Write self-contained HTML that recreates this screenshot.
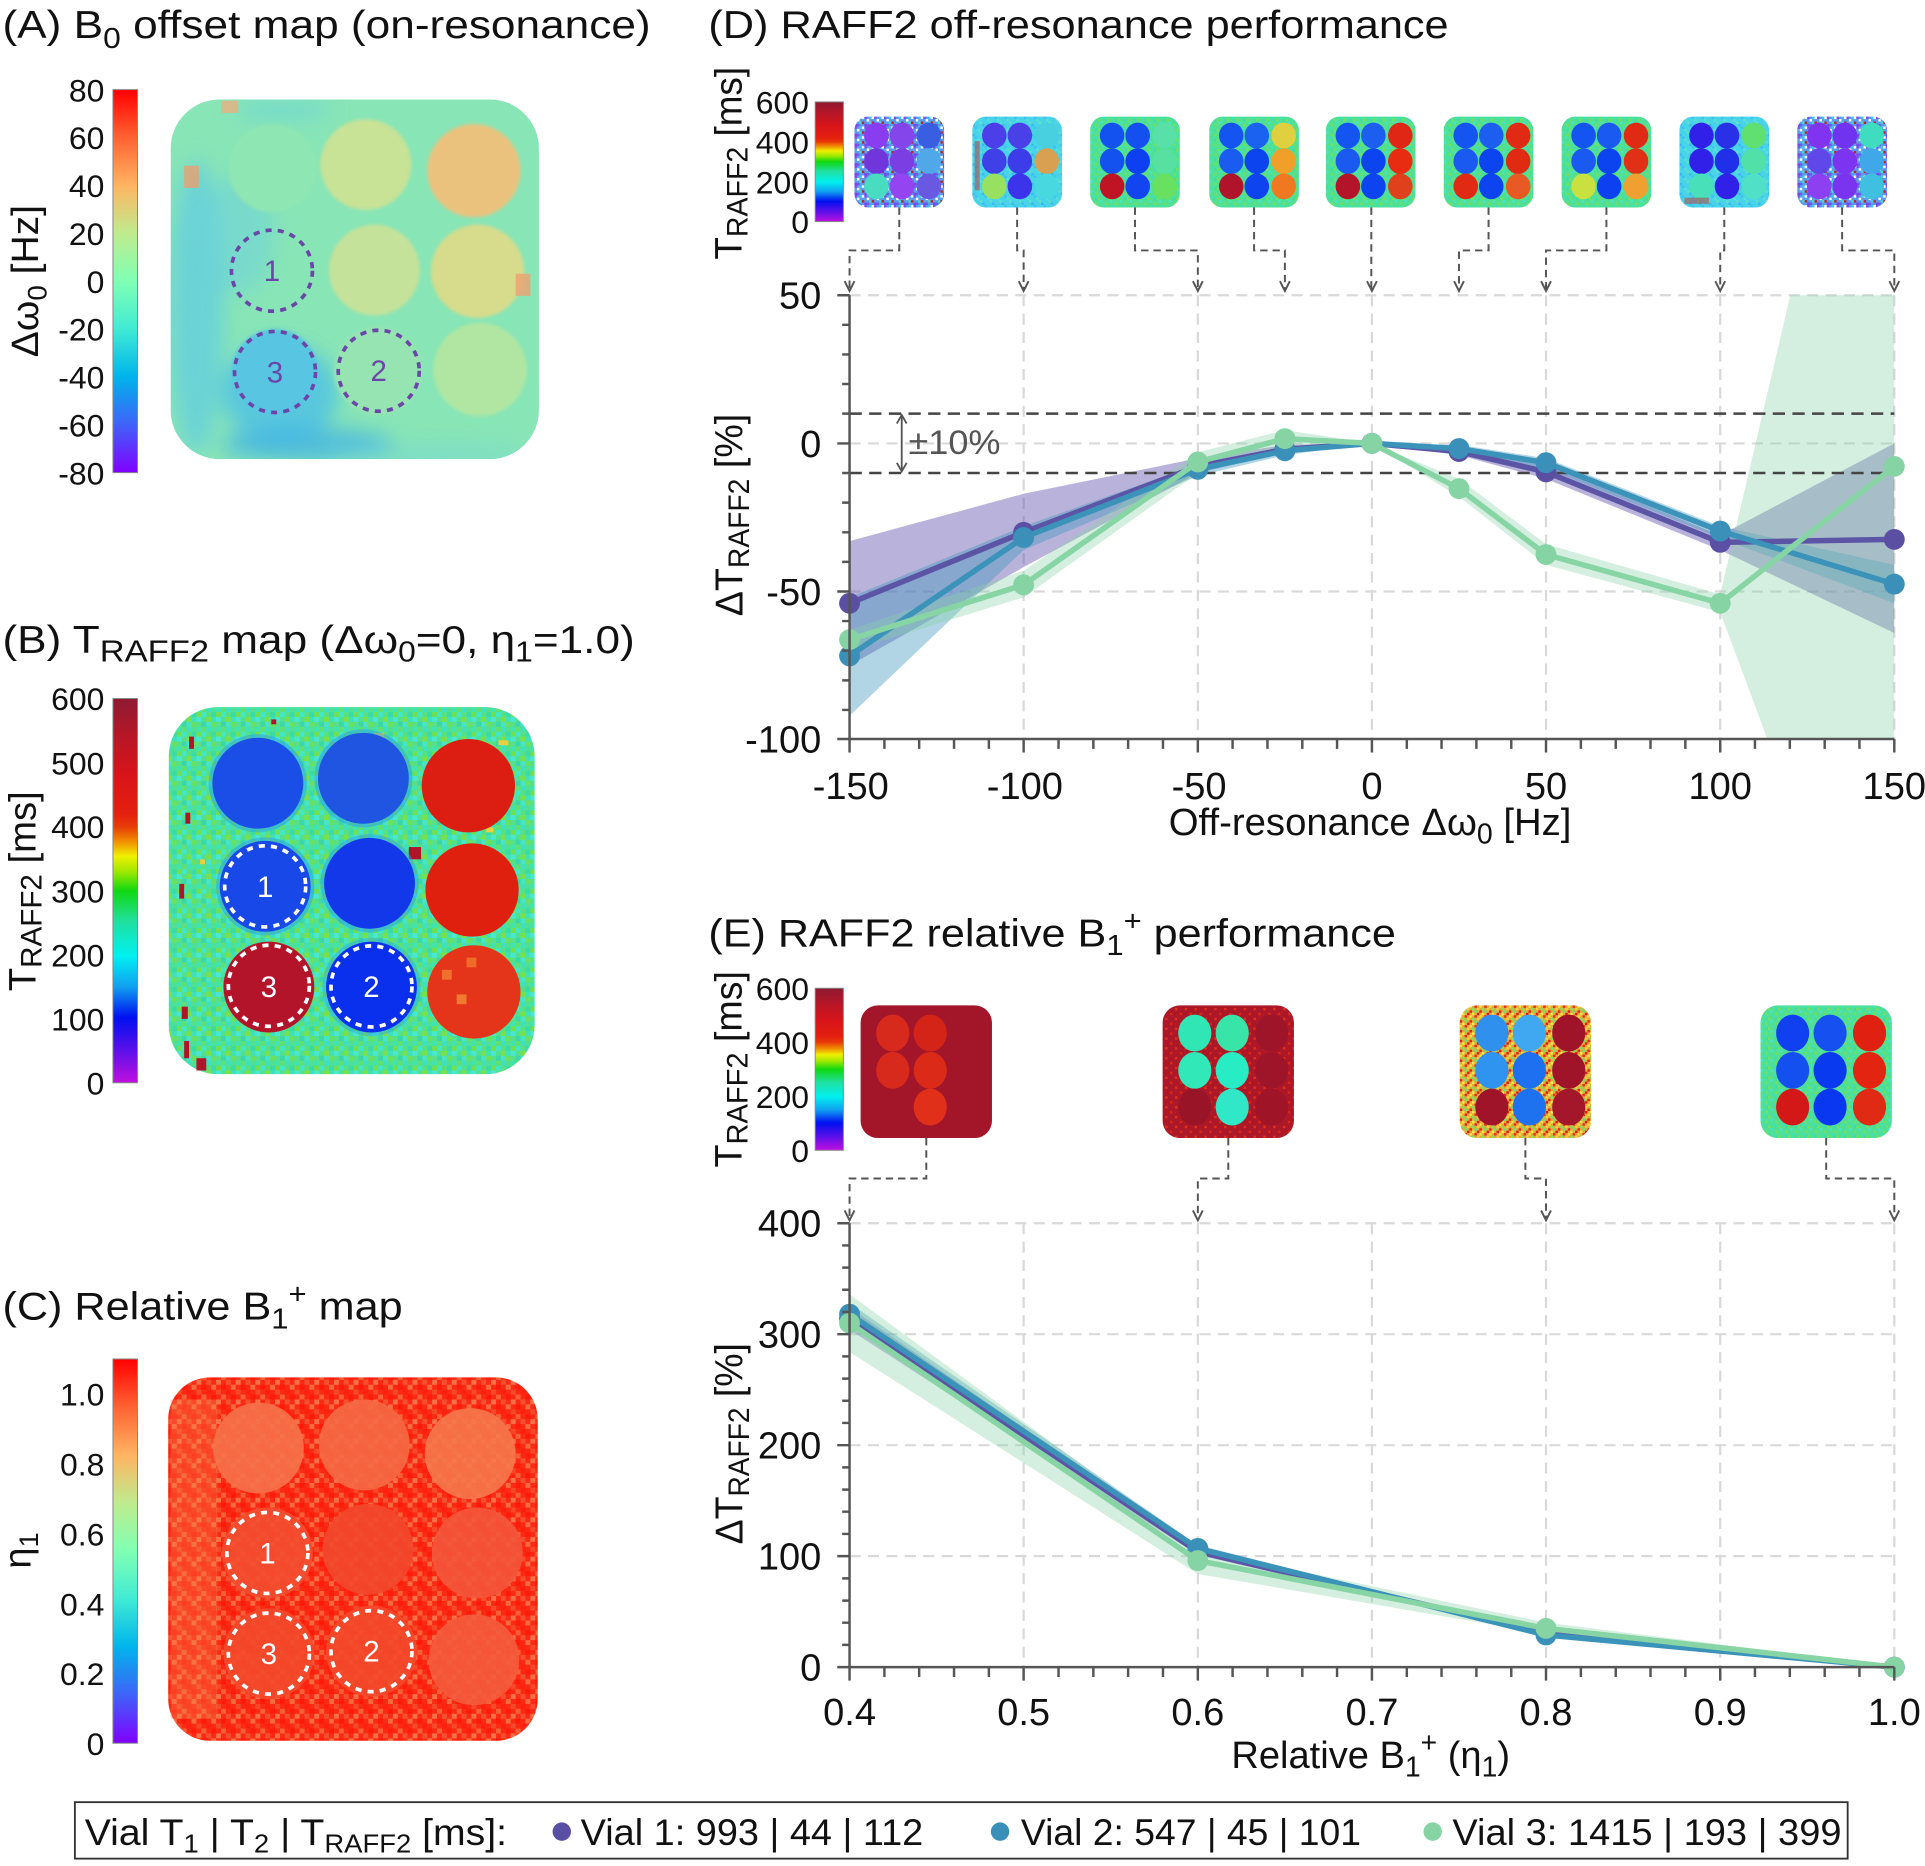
<!DOCTYPE html>
<html><head><meta charset="utf-8"><style>
html,body{margin:0;padding:0;background:#fff;}
svg{display:block;}
text{font-family:"Liberation Sans",sans-serif;fill:#111;}
text.pu{fill:#6a46a8;}
text.wh{fill:#ffffff;}
text.gy{fill:#555555;}
</style></head><body>
<svg xmlns="http://www.w3.org/2000/svg" width="1925" height="1866" viewBox="0 0 1568 1520" preserveAspectRatio="none">
<defs>
<linearGradient id="rainbow" x1="0" y1="0" x2="0" y2="1">
<stop offset="0" stop-color="#ff0000"/><stop offset="0.125" stop-color="#ff6232"/><stop offset="0.25" stop-color="#ffb462"/><stop offset="0.375" stop-color="#bfeb8e"/><stop offset="0.5" stop-color="#80ffb4"/><stop offset="0.625" stop-color="#40ebd4"/><stop offset="0.75" stop-color="#00b4eb"/><stop offset="0.875" stop-color="#4062fa"/><stop offset="1" stop-color="#8000ff"/>
</linearGradient>
<linearGradient id="traff" x1="0" y1="0" x2="0" y2="1">
<stop offset="0" stop-color="#8e1a32"/><stop offset="0.1" stop-color="#b81626"/><stop offset="0.2" stop-color="#d8141a"/><stop offset="0.3" stop-color="#e42010"/><stop offset="0.333" stop-color="#e83a08"/><stop offset="0.37" stop-color="#f08a00"/><stop offset="0.41" stop-color="#f0f000"/><stop offset="0.45" stop-color="#a0e800"/><stop offset="0.5" stop-color="#10d810"/><stop offset="0.58" stop-color="#20e0a0"/><stop offset="0.67" stop-color="#00f0f0"/><stop offset="0.75" stop-color="#10a0f0"/><stop offset="0.83" stop-color="#0010f0"/><stop offset="0.92" stop-color="#6010e8"/><stop offset="1" stop-color="#c010e0"/>
</linearGradient>
<pattern id="pB" width="16" height="16" patternUnits="userSpaceOnUse">
<rect x="0" y="0" width="4" height="4" fill="#40e4b0"/><rect x="4" y="0" width="4" height="4" fill="#60e070"/><rect x="8" y="0" width="4" height="4" fill="#3ee0c0"/><rect x="12" y="0" width="4" height="4" fill="#50e090"/>
<rect x="0" y="4" width="4" height="4" fill="#70e050"/><rect x="4" y="4" width="4" height="4" fill="#40e8c8"/><rect x="8" y="4" width="4" height="4" fill="#58e080"/><rect x="12" y="4" width="4" height="4" fill="#38dca8"/>
<rect x="0" y="8" width="4" height="4" fill="#48e8d0"/><rect x="4" y="8" width="4" height="4" fill="#50e090"/><rect x="8" y="8" width="4" height="4" fill="#7ae048"/><rect x="12" y="8" width="4" height="4" fill="#40e0b8"/>
<rect x="0" y="12" width="4" height="4" fill="#58e088"/><rect x="4" y="12" width="4" height="4" fill="#3ad8a8"/><rect x="8" y="12" width="4" height="4" fill="#48e4c4"/><rect x="12" y="12" width="4" height="4" fill="#68e060"/>
</pattern>
<pattern id="pC" width="16" height="16" patternUnits="userSpaceOnUse">
<rect width="16" height="16" fill="#fa2a14"/>
<rect x="4" y="0" width="4" height="4" fill="#f66038"/><rect x="12" y="0" width="4" height="4" fill="#ff1a0a"/>
<rect x="0" y="4" width="4" height="4" fill="#f87048"/><rect x="8" y="4" width="4" height="4" fill="#f45030"/>
<rect x="4" y="8" width="4" height="4" fill="#ff1a0a"/><rect x="12" y="8" width="4" height="4" fill="#f66a40"/>
<rect x="0" y="12" width="4" height="4" fill="#f44a2a"/><rect x="8" y="12" width="4" height="4" fill="#ff200e"/>
</pattern>
<pattern id="pG" width="8" height="8" patternUnits="userSpaceOnUse">
<rect width="8" height="8" fill="#50e094"/><rect x="2" y="0" width="2" height="2" fill="#40e0b8"/><rect x="6" y="2" width="2" height="2" fill="#78e058"/><rect x="0" y="4" width="2" height="2" fill="#48e4c8"/><rect x="4" y="6" width="2" height="2" fill="#70e060"/><rect x="4" y="2" width="2" height="2" fill="#3cdcb0"/>
</pattern>
<pattern id="pN" width="8" height="8" patternUnits="userSpaceOnUse">
<rect width="8" height="8" fill="#5a9cec"/><rect x="0" y="0" width="2" height="2" fill="#7a50e8"/><rect x="2" y="2" width="2" height="2" fill="#ffffff"/><rect x="4" y="0" width="2" height="2" fill="#40c8e8"/><rect x="6" y="4" width="2" height="2" fill="#c02030"/><rect x="0" y="6" width="2" height="2" fill="#8040f0"/><rect x="4" y="4" width="2" height="2" fill="#48d8d0"/><rect x="2" y="6" width="2" height="2" fill="#6060e8"/><rect x="6" y="0" width="2" height="2" fill="#ffffff"/>
</pattern>
<pattern id="pCy" width="8" height="8" patternUnits="userSpaceOnUse">
<rect width="8" height="8" fill="#48d4e8"/><rect x="2" y="0" width="2" height="2" fill="#40c0f0"/><rect x="6" y="4" width="2" height="2" fill="#60e0c8"/><rect x="0" y="6" width="2" height="2" fill="#3cb8f0"/><rect x="4" y="2" width="2" height="2" fill="#58e0d8"/>
</pattern>
<pattern id="pE3" width="8" height="8" patternUnits="userSpaceOnUse">
<rect width="8" height="8" fill="#e8a838"/><rect x="0" y="0" width="2" height="2" fill="#f0e040"/><rect x="4" y="0" width="2" height="2" fill="#e03020"/><rect x="2" y="2" width="2" height="2" fill="#80e060"/><rect x="6" y="2" width="2" height="2" fill="#f0d040"/><rect x="0" y="4" width="2" height="2" fill="#e02818"/><rect x="4" y="4" width="2" height="2" fill="#70e070"/><rect x="2" y="6" width="2" height="2" fill="#f0e850"/><rect x="6" y="6" width="2" height="2" fill="#d82018"/>
</pattern>
<pattern id="pE2" width="8" height="8" patternUnits="userSpaceOnUse">
<rect width="8" height="8" fill="#ac1828"/><rect x="2" y="2" width="2" height="2" fill="#e0301c"/><rect x="6" y="6" width="2" height="2" fill="#d82818"/>
</pattern>
<clipPath id="clipA"><rect x="139" y="81" width="300" height="293" rx="40"/></clipPath>
<clipPath id="clipD"><rect x="692" y="240.5" width="851" height="361.5"/></clipPath>
<filter id="blur6" x="-50%" y="-50%" width="200%" height="200%"><feGaussianBlur stdDeviation="8"/></filter>
<filter id="blur1"><feGaussianBlur stdDeviation="1.2"/></filter>
</defs>

<!-- ============ PANEL A ============ -->
<text x="2" y="31" font-size="32" textLength="528" lengthAdjust="spacingAndGlyphs">(A) B<tspan dy="8" font-size="23">0</tspan><tspan dy="-8"> offset map (on-resonance)</tspan></text>
<rect x="92" y="73" width="20" height="312" fill="url(#rainbow)" stroke="#888" stroke-width="0.8"/>
<g font-size="26" text-anchor="end">
<text x="85" y="82.5">80</text><text x="85" y="121.5">60</text><text x="85" y="160.5">40</text><text x="85" y="199.5">20</text><text x="85" y="238.5">0</text><text x="85" y="277.5">-20</text><text x="85" y="316.5">-40</text><text x="85" y="355.5">-60</text><text x="85" y="394.5">-80</text>
</g>
<text transform="translate(31,229) rotate(-90)" text-anchor="middle" font-size="31" textLength="124" lengthAdjust="spacingAndGlyphs">Δω<tspan dy="7" font-size="22">0</tspan><tspan dy="-7"> [Hz]</tspan></text>
<g clip-path="url(#clipA)">
<rect x="139" y="81" width="300" height="293" fill="#88e5b6"/>
<g filter="url(#blur6)">
<ellipse cx="160" cy="250" rx="22" ry="120" fill="#62cce0" opacity="0.75"/>
<ellipse cx="228" cy="320" rx="48" ry="40" fill="#4cc0e6" opacity="0.8"/>
<ellipse cx="250" cy="362" rx="70" ry="14" fill="#3aaee8" opacity="0.7"/>
<ellipse cx="195" cy="190" rx="28" ry="50" fill="#6cd2dc" opacity="0.55"/>
<ellipse cx="350" cy="370" rx="80" ry="8" fill="#70d6d8" opacity="0.5"/>
<ellipse cx="230" cy="90" rx="40" ry="8" fill="#68d4dc" opacity="0.6"/>
</g>
<g filter="url(#blur1)">
<circle cx="222" cy="137" r="36" fill="#8ee6b2"/>
<circle cx="298" cy="134" r="37" fill="#c8e296"/>
<circle cx="386" cy="139" r="38" fill="#eac27e"/>
<circle cx="305" cy="220" r="37" fill="#c4e29a"/>
<circle cx="389" cy="221" r="38" fill="#d6dc8c"/>
<circle cx="224" cy="303" r="35" fill="#58c6e2"/>
<circle cx="308" cy="302" r="36" fill="#96e4b2"/>
<circle cx="391" cy="301" r="38" fill="#b0e6a2"/>
</g>
<rect x="150" y="135" width="12" height="18" fill="#eaa070" opacity="0.8"/>
<rect x="420" y="223" width="12" height="18" fill="#f0a070" opacity="0.8"/>
<rect x="180" y="82" width="14" height="10" fill="#eab080" opacity="0.8"/>
</g>
<g fill="none" stroke="#6a46a8" stroke-width="3" stroke-dasharray="5 5">
<circle cx="221.5" cy="220.5" r="33"/><circle cx="224" cy="303" r="33"/><circle cx="308.5" cy="302" r="33"/>
</g>
<g font-size="24" text-anchor="middle">
<text class="pu" x="221.5" y="229">1</text><text class="pu" x="224" y="311.5">3</text><text class="pu" x="308.5" y="310.5">2</text>
</g>

<!-- ============ PANEL B ============ -->
<text x="2" y="532" font-size="32" textLength="515" lengthAdjust="spacingAndGlyphs">(B) T<tspan dy="7" font-size="25">RAFF2</tspan><tspan dy="-7"> map (Δω</tspan><tspan dy="7" font-size="23">0</tspan><tspan dy="-7">=0, η</tspan><tspan dy="7" font-size="23">1</tspan><tspan dy="-7">=1.0)</tspan></text>
<rect x="92" y="569" width="20" height="313" fill="url(#traff)" stroke="#888" stroke-width="0.8"/>
<g font-size="26" text-anchor="end">
<text x="85" y="578.5">600</text><text x="85" y="630.7">500</text><text x="85" y="682.8">400</text><text x="85" y="735">300</text><text x="85" y="787.2">200</text><text x="85" y="839.3">100</text><text x="85" y="891.5">0</text>
</g>
<text transform="translate(29,726) rotate(-90)" text-anchor="middle" font-size="31" textLength="163" lengthAdjust="spacingAndGlyphs">T<tspan dy="5" font-size="24">RAFF2</tspan><tspan dy="-5"> [ms]</tspan></text>
<rect x="137.5" y="576" width="298" height="299" rx="40" fill="url(#pB)"/>
<g fill="#b01428">
<rect x="151" y="662" width="4" height="9"/><rect x="146" y="720" width="4" height="12"/><rect x="148" y="820" width="5" height="10"/><rect x="150" y="848" width="4" height="14"/><rect x="160" y="862" width="8" height="10"/><rect x="333" y="690" width="10" height="10"/><rect x="221" y="586" width="4" height="4"/><rect x="154" y="600" width="4" height="10"/>
</g>
<g fill="#e8d040">
<rect x="163" y="700" width="4" height="4"/><rect x="305" y="597" width="8" height="4"/><rect x="406" y="603" width="8" height="4"/><rect x="396" y="674" width="6" height="4"/><rect x="297" y="686" width="6" height="8"/>
</g>
<g>
<circle cx="210" cy="638" r="40" fill="#2aa0f0" opacity="0.5"/>
<circle cx="296" cy="634" r="40" fill="#2aa0f0" opacity="0.5"/>
<circle cx="216" cy="722" r="40" fill="#2aa0f0" opacity="0.5"/>
<circle cx="301" cy="719.5" r="40" fill="#2aa0f0" opacity="0.5"/>
<circle cx="302.6" cy="804" r="40" fill="#2aa0f0" opacity="0.4"/>
<circle cx="210" cy="638" r="37" fill="#1a4ee6"/>
<circle cx="296" cy="634" r="37" fill="#1f55e0"/>
<circle cx="381.5" cy="640" r="38" fill="#dc1e12"/>
<circle cx="216" cy="722" r="37" fill="#1848e8"/>
<circle cx="301" cy="719.5" r="37" fill="#1238ea"/>
<circle cx="384.5" cy="725" r="38" fill="#e0200f"/>
<circle cx="219" cy="804" r="37" fill="#b4142a"/>
<circle cx="302.6" cy="804" r="37" fill="#0a30ee"/>
<circle cx="386" cy="808" r="38" fill="#e4341a"/>
<rect x="360" y="790" width="8" height="8" fill="#f07030"/><rect x="380" y="780" width="8" height="8" fill="#f06a28"/><rect x="372" y="810" width="8" height="8" fill="#f07a30"/>
</g>
<g fill="none" stroke="#fff" stroke-width="3" stroke-dasharray="5 5">
<circle cx="216" cy="722" r="33"/><circle cx="219" cy="803" r="33"/><circle cx="302.6" cy="803.5" r="33"/>
</g>
<g font-size="24" text-anchor="middle">
<text class="wh" x="216" y="730.5">1</text><text class="wh" x="219" y="812">3</text><text class="wh" x="302.6" y="812">2</text>
</g>

<!-- ============ PANEL C ============ -->
<text x="2" y="1075" font-size="32" textLength="326" lengthAdjust="spacingAndGlyphs">(C) Relative B<tspan dy="7" font-size="23">1</tspan><tspan dy="-20" font-size="23">+</tspan><tspan dy="13"> map</tspan></text>
<rect x="92" y="1107" width="20" height="313" fill="url(#rainbow)" stroke="#888" stroke-width="0.8"/>
<g font-size="26" text-anchor="end">
<text x="85" y="1145">1.0</text><text x="85" y="1202">0.8</text><text x="85" y="1259">0.6</text><text x="85" y="1316">0.4</text><text x="85" y="1372.6">0.2</text><text x="85" y="1429.5">0</text>
</g>
<text transform="translate(25,1263) rotate(-90)" text-anchor="middle" font-size="31">η<tspan dy="6" font-size="22">1</tspan></text>
<rect x="137" y="1122" width="301" height="296" rx="34" fill="url(#pC)"/>
<rect x="139" y="1140" width="38" height="260" fill="#f6844e" opacity="0.35"/>
<g opacity="0.9">
<circle cx="210.5" cy="1179.5" r="37" fill="#f6724a"/>
<circle cx="296.7" cy="1177" r="37" fill="#f56a44"/>
<circle cx="383" cy="1184" r="37" fill="#f6784c"/>
<circle cx="217.8" cy="1265" r="37" fill="#f44e30"/>
<circle cx="299.7" cy="1262" r="37" fill="#f2482c"/>
<circle cx="388.8" cy="1265" r="37" fill="#f4563a"/>
<circle cx="219" cy="1347" r="37" fill="#f44a2c"/>
<circle cx="302.6" cy="1345" r="37" fill="#f44a2c"/>
<circle cx="386" cy="1352" r="37" fill="#f45c3c"/>
</g>
<g fill="none" stroke="#fff" stroke-width="3" stroke-dasharray="5 5">
<circle cx="217.8" cy="1265" r="33"/><circle cx="219" cy="1347" r="33"/><circle cx="302.6" cy="1345" r="33"/>
</g>
<g font-size="24" text-anchor="middle">
<text class="wh" x="217.8" y="1273.5">1</text><text class="wh" x="219" y="1355.5">3</text><text class="wh" x="302.6" y="1353.5">2</text>
</g>

<!-- ============ PANEL D ============ -->
<text x="577" y="31" font-size="32" textLength="603" lengthAdjust="spacingAndGlyphs">(D) RAFF2 off-resonance performance</text>
<rect x="664" y="83" width="23" height="97.5" fill="url(#traff)" stroke="#888" stroke-width="0.8"/>
<g font-size="26" text-anchor="end">
<text x="659" y="92.5">600</text><text x="659" y="125">400</text><text x="659" y="157.5">200</text><text x="659" y="190">0</text>
</g>
<text transform="translate(604,133) rotate(-90)" text-anchor="middle" font-size="31" textLength="157" lengthAdjust="spacingAndGlyphs">T<tspan dy="5" font-size="24">RAFF2</tspan><tspan dy="-5"> [ms]</tspan></text>

<!-- small maps D -->
<g transform="translate(696,95)">
<rect width="73" height="74" rx="11" fill="url(#pN)"/>
<ellipse cx="17.9" cy="15.4" rx="10" ry="10.5" fill="#8a3cf0"/><ellipse cx="38.7" cy="15.4" rx="10" ry="10.5" fill="#8446ea"/><ellipse cx="60.6" cy="15.4" rx="10" ry="10.5" fill="#3a5ee2"/><ellipse cx="17.9" cy="36.3" rx="10" ry="10.5" fill="#7036dc"/><ellipse cx="38.7" cy="36.3" rx="10" ry="10.5" fill="#7a3ee2"/><ellipse cx="60.6" cy="36.3" rx="10" ry="10.5" fill="#50a8e8"/><ellipse cx="17.9" cy="56.8" rx="10" ry="10.5" fill="#48dcc0"/><ellipse cx="38.7" cy="56.8" rx="10" ry="10.5" fill="#9444f0"/><ellipse cx="60.6" cy="56.8" rx="10" ry="10.5" fill="#6858e2"/>
</g>
<g transform="translate(792,95)">
<rect width="73" height="74" rx="11" fill="url(#pCy)"/>
<ellipse cx="17.9" cy="15.4" rx="10" ry="10.5" fill="#4c3ee8"/><ellipse cx="38.7" cy="15.4" rx="10" ry="10.5" fill="#4a40e8"/><ellipse cx="60.6" cy="15.4" rx="10" ry="10.5" fill="#48d0e0"/><ellipse cx="17.9" cy="36.3" rx="10" ry="10.5" fill="#4040e8"/><ellipse cx="38.7" cy="36.3" rx="10" ry="10.5" fill="#3c3ce8"/><ellipse cx="60.6" cy="36.3" rx="10" ry="10.5" fill="#d8a050"/><ellipse cx="17.9" cy="56.8" rx="10" ry="10.5" fill="#98e060"/><ellipse cx="38.7" cy="56.8" rx="10" ry="10.5" fill="#3c34ea"/><ellipse cx="60.6" cy="56.8" rx="10" ry="10.5" fill="#48d8e0"/>
<rect x="2" y="20" width="4" height="40" fill="#c03030" opacity="0.5"/>
</g>
<g transform="translate(888,95)">
<rect width="73" height="74" rx="11" fill="url(#pG)"/>
<ellipse cx="17.9" cy="15.4" rx="10" ry="10.5" fill="#1452f0"/><ellipse cx="38.7" cy="15.4" rx="10" ry="10.5" fill="#1450f0"/><ellipse cx="60.6" cy="15.4" rx="10" ry="10.5" fill="#58e0a8"/><ellipse cx="17.9" cy="36.3" rx="10" ry="10.5" fill="#1452f0"/><ellipse cx="38.7" cy="36.3" rx="10" ry="10.5" fill="#0c40f0"/><ellipse cx="60.6" cy="36.3" rx="10" ry="10.5" fill="#58e0a0"/><ellipse cx="17.9" cy="56.8" rx="10" ry="10.5" fill="#c01424"/><ellipse cx="38.7" cy="56.8" rx="10" ry="10.5" fill="#1244f0"/><ellipse cx="60.6" cy="56.8" rx="10" ry="10.5" fill="#68e060"/>
</g>
<g transform="translate(985,95)">
<rect width="73" height="74" rx="11" fill="url(#pG)"/>
<ellipse cx="17.9" cy="15.4" rx="10" ry="10.5" fill="#1454f0"/><ellipse cx="38.7" cy="15.4" rx="10" ry="10.5" fill="#1c62f0"/><ellipse cx="60.6" cy="15.4" rx="10" ry="10.5" fill="#e0d040"/><ellipse cx="17.9" cy="36.3" rx="10" ry="10.5" fill="#1a5cf0"/><ellipse cx="38.7" cy="36.3" rx="10" ry="10.5" fill="#0c44f0"/><ellipse cx="60.6" cy="36.3" rx="10" ry="10.5" fill="#f0a028"/><ellipse cx="17.9" cy="56.8" rx="10" ry="10.5" fill="#b0142a"/><ellipse cx="38.7" cy="56.8" rx="10" ry="10.5" fill="#0e44f0"/><ellipse cx="60.6" cy="56.8" rx="10" ry="10.5" fill="#f07820"/>
</g>
<g transform="translate(1080,95)">
<rect width="73" height="74" rx="11" fill="url(#pG)"/>
<ellipse cx="17.9" cy="15.4" rx="10" ry="10.5" fill="#1454f0"/><ellipse cx="38.7" cy="15.4" rx="10" ry="10.5" fill="#1c5ef0"/><ellipse cx="60.6" cy="15.4" rx="10" ry="10.5" fill="#e02614"/><ellipse cx="17.9" cy="36.3" rx="10" ry="10.5" fill="#1a5af0"/><ellipse cx="38.7" cy="36.3" rx="10" ry="10.5" fill="#0c44f0"/><ellipse cx="60.6" cy="36.3" rx="10" ry="10.5" fill="#e82c12"/><ellipse cx="17.9" cy="56.8" rx="10" ry="10.5" fill="#b4142a"/><ellipse cx="38.7" cy="56.8" rx="10" ry="10.5" fill="#0e44f0"/><ellipse cx="60.6" cy="56.8" rx="10" ry="10.5" fill="#e0401c"/>
</g>
<g transform="translate(1176,95)">
<rect width="73" height="74" rx="11" fill="url(#pG)"/>
<ellipse cx="17.9" cy="15.4" rx="10" ry="10.5" fill="#1454f0"/><ellipse cx="38.7" cy="15.4" rx="10" ry="10.5" fill="#1c5ef0"/><ellipse cx="60.6" cy="15.4" rx="10" ry="10.5" fill="#e02a14"/><ellipse cx="17.9" cy="36.3" rx="10" ry="10.5" fill="#1a5af0"/><ellipse cx="38.7" cy="36.3" rx="10" ry="10.5" fill="#0c44f0"/><ellipse cx="60.6" cy="36.3" rx="10" ry="10.5" fill="#e02a12"/><ellipse cx="17.9" cy="56.8" rx="10" ry="10.5" fill="#e02a14"/><ellipse cx="38.7" cy="56.8" rx="10" ry="10.5" fill="#0e44f0"/><ellipse cx="60.6" cy="56.8" rx="10" ry="10.5" fill="#e85a24"/>
</g>
<g transform="translate(1272,95)">
<rect width="73" height="74" rx="11" fill="url(#pG)"/>
<ellipse cx="17.9" cy="15.4" rx="10" ry="10.5" fill="#1454f0"/><ellipse cx="38.7" cy="15.4" rx="10" ry="10.5" fill="#1a5af0"/><ellipse cx="60.6" cy="15.4" rx="10" ry="10.5" fill="#e02a14"/><ellipse cx="17.9" cy="36.3" rx="10" ry="10.5" fill="#1a5af0"/><ellipse cx="38.7" cy="36.3" rx="10" ry="10.5" fill="#0c44f0"/><ellipse cx="60.6" cy="36.3" rx="10" ry="10.5" fill="#e03016"/><ellipse cx="17.9" cy="56.8" rx="10" ry="10.5" fill="#c8e040"/><ellipse cx="38.7" cy="56.8" rx="10" ry="10.5" fill="#0c40f0"/><ellipse cx="60.6" cy="56.8" rx="10" ry="10.5" fill="#f0a030"/>
</g>
<g transform="translate(1368,95)">
<rect width="73" height="74" rx="11" fill="url(#pCy)"/>
<ellipse cx="17.9" cy="15.4" rx="10" ry="10.5" fill="#3020e8"/><ellipse cx="38.7" cy="15.4" rx="10" ry="10.5" fill="#2830e8"/><ellipse cx="60.6" cy="15.4" rx="10" ry="10.5" fill="#60e070"/><ellipse cx="17.9" cy="36.3" rx="10" ry="10.5" fill="#3020e8"/><ellipse cx="38.7" cy="36.3" rx="10" ry="10.5" fill="#2030e8"/><ellipse cx="60.6" cy="36.3" rx="10" ry="10.5" fill="#50e0a8"/><ellipse cx="17.9" cy="56.8" rx="10" ry="10.5" fill="#48e0b8"/><ellipse cx="38.7" cy="56.8" rx="10" ry="10.5" fill="#3020e8"/><ellipse cx="60.6" cy="56.8" rx="10" ry="10.5" fill="#50e0c8"/>
<rect x="4" y="66" width="20" height="5" fill="#c03030" opacity="0.5"/>
</g>
<g transform="translate(1464,95)">
<rect width="73" height="74" rx="11" fill="url(#pN)"/>
<ellipse cx="17.9" cy="15.4" rx="10" ry="10.5" fill="#8034f0"/><ellipse cx="38.7" cy="15.4" rx="10" ry="10.5" fill="#7034f0"/><ellipse cx="60.6" cy="15.4" rx="10" ry="10.5" fill="#40dcc0"/><ellipse cx="17.9" cy="36.3" rx="10" ry="10.5" fill="#6048e8"/><ellipse cx="38.7" cy="36.3" rx="10" ry="10.5" fill="#7c34f0"/><ellipse cx="60.6" cy="36.3" rx="10" ry="10.5" fill="#40a8e8"/><ellipse cx="17.9" cy="56.8" rx="10" ry="10.5" fill="#8c40f0"/><ellipse cx="38.7" cy="56.8" rx="10" ry="10.5" fill="#7a34f0"/><ellipse cx="60.6" cy="56.8" rx="10" ry="10.5" fill="#40c0e0"/>
</g>

<!-- connectors D -->
<g fill="none" stroke="#555" stroke-width="1.6" stroke-dasharray="6 4">
<path d="M732.5 169 V204 H692 V236"/>
<path d="M828.5 169 V204 H833.8 V236"/>
<path d="M924.5 169 V204 H975.7 V236"/>
<path d="M1021.5 169 V204 H1046.6 V236"/>
<path d="M1117 169 V236"/>
<path d="M1212.5 169 V204 H1188.4 V236"/>
<path d="M1308.5 169 V204 H1259.3 V236"/>
<path d="M1404.5 169 V204 H1401.2 V236"/>
<path d="M1500.5 169 V204 H1543 V236"/>
</g>
<g fill="none" stroke="#555" stroke-width="1.6">
<path d="M688 229 L692 237 L696 229"/><path d="M829.8 229 L833.8 237 L837.8 229"/><path d="M971.7 229 L975.7 237 L979.7 229"/><path d="M1042.6 229 L1046.6 237 L1050.6 229"/><path d="M1113.5 229 L1117.5 237 L1121.5 229"/><path d="M1184.4 229 L1188.4 237 L1192.4 229"/><path d="M1255.3 229 L1259.3 237 L1263.3 229"/><path d="M1397.2 229 L1401.2 237 L1405.2 229"/><path d="M1539 229 L1543 237 L1547 229"/>
</g>

<!-- D grid -->
<g stroke="#d9d9d9" stroke-width="1.8" stroke-dasharray="9 6" fill="none">
<path d="M833.8 240.5V602M975.7 240.5V602M1117.5 240.5V602M1259.3 240.5V602M1401.2 240.5V602M1543 240.5V602"/>
<path d="M692 240.5H1543M692 361.2H1543M692 481.8H1543"/>
</g>
<!-- D bands -->
<g clip-path="url(#clipD)">
<polygon fill="#6455af" fill-opacity="0.45" points="692,440.8 833.8,402.2 975.7,373.3 1046.6,362.4 1117.5,361.2 1188.4,364.8 1259.3,378.1 1401.2,436 1543,361.2 1543,515.6 1401.2,448 1259.3,390.1 1188.4,370.8 1117.5,361.2 1046.6,368.4 975.7,385.3 833.8,462 692,542.1"/>
<polygon fill="#3c96be" fill-opacity="0.4" points="692,486.6 833.8,428.7 975.7,378.1 1046.6,363.6 1117.5,361.2 1188.4,362.4 1259.3,373.3 1401.2,428.7 1543,460.1 1543,491.4 1401.2,438.4 1259.3,381.7 1188.4,368.4 1117.5,361.2 1046.6,370.8 975.7,387.7 833.8,448 692,583.1"/>
<polygon fill="#87d4a5" fill-opacity="0.36" points="692,513.2 833.8,464.9 975.7,368.4 1046.6,350.3 1117.5,361.2 1188.4,390.1 1259.3,443.2 1401.2,484.2 1543,-121 1543,879.8 1401.2,498.7 1259.3,460.1 1188.4,404.6 1117.5,361.2 1046.6,363.6 975.7,385.3 833.8,486.6 692,530"/>
</g>
<!-- ±10% -->
<g stroke="#444" stroke-width="2" stroke-dasharray="10 6">
<path d="M692 336.9H1543M692 385.3H1543"/>
</g>
<g fill="none" stroke="#555" stroke-width="1.5">
<path d="M734.5 339 V383"/><path d="M730.5 345 L734.5 338 L738.5 345"/><path d="M730.5 377 L734.5 384 L738.5 377"/>
</g>
<text class="gy" x="740" y="370" font-size="28" textLength="75" lengthAdjust="spacingAndGlyphs">±10%</text>
<!-- D lines -->
<polyline fill="none" stroke-width="4.5" stroke-linejoin="round" stroke="#5c55a6" points="692,491.4 833.8,433.6 975.7,379.9 1046.6,366 1117.5,361.2 1188.4,367.8 1259.3,384.4 1401.2,441.8 1543,439.4"/>
<g fill="#5a4fa3">
<circle cx="692" cy="491.4" r="8.5"/><circle cx="833.8" cy="433.6" r="8.5"/><circle cx="975.7" cy="379.9" r="8.5"/><circle cx="1046.6" cy="366" r="8.5"/><circle cx="1117.5" cy="361.2" r="8.5"/><circle cx="1188.4" cy="367.8" r="8.5"/><circle cx="1259.3" cy="384.4" r="8.5"/><circle cx="1401.2" cy="441.8" r="8.5"/><circle cx="1543" cy="439.4" r="8.5"/>
</g>
<polyline fill="none" stroke-width="4.5" stroke-linejoin="round" stroke="#3b93b9" points="692,534.3 833.8,437.8 975.7,382.3 1046.6,367.2 1117.5,361.2 1188.4,365.4 1259.3,376.9 1401.2,432.6 1543,475.8"/>
<g fill="#3a90b8">
<circle cx="692" cy="534.3" r="8.5"/><circle cx="833.8" cy="437.8" r="8.5"/><circle cx="975.7" cy="382.3" r="8.5"/><circle cx="1046.6" cy="367.2" r="8.5"/><circle cx="1117.5" cy="361.2" r="8.5"/><circle cx="1188.4" cy="365.4" r="8.5"/><circle cx="1259.3" cy="376.9" r="8.5"/><circle cx="1401.2" cy="432.6" r="8.5"/><circle cx="1543" cy="475.8" r="8.5"/>
</g>
<polyline fill="none" stroke-width="4.5" stroke-linejoin="round" stroke="#87d4a5" points="692,521 833.8,476.4 975.7,376.3 1046.6,357.3 1117.5,361.2 1188.4,398 1259.3,451.7 1401.2,491.4 1543,379.9"/>
<g fill="#86d3a4">
<circle cx="692" cy="521" r="8.5"/><circle cx="833.8" cy="476.4" r="8.5"/><circle cx="975.7" cy="376.3" r="8.5"/><circle cx="1046.6" cy="357.3" r="8.5"/><circle cx="1117.5" cy="361.2" r="8.5"/><circle cx="1188.4" cy="398" r="8.5"/><circle cx="1259.3" cy="451.7" r="8.5"/><circle cx="1401.2" cy="491.4" r="8.5"/><circle cx="1543" cy="379.9" r="8.5"/>
</g>
<!-- D axes -->
<g stroke="#555" stroke-width="2" fill="none">
<path d="M692 240.5V602H1543"/>
<path d="M682 240.5H692M682 361.2H692M682 481.8H692M682 602H692"/>
<path d="M686 264.6H692M686 288.7H692M686 312.8H692M686 336.9H692M686 385.3H692M686 409.4H692M686 433.6H692M686 457.7H692M686 505.9H692M686 530H692M686 554.2H692M686 578.3H692"/>
<path d="M692 602v11M720.4 602v8M748.7 602v8M777.1 602v8M805.5 602v8M833.8 602v11M862.2 602v8M890.6 602v8M918.9 602v8M947.3 602v8M975.7 602v11M1004 602v8M1032.4 602v8M1060.8 602v8M1089.1 602v8M1117.5 602v11M1145.9 602v8M1174.2 602v8M1202.6 602v8M1231 602v8M1259.3 602v11M1287.7 602v8M1316.1 602v8M1344.4 602v8M1372.8 602v8M1401.2 602v11M1429.5 602v8M1457.9 602v8M1486.3 602v8M1514.6 602v8M1543 602v11"/>
</g>
<g font-size="31" text-anchor="end">
<text x="669" y="251.5">50</text><text x="669" y="372.2">0</text><text x="669" y="492.8">-50</text><text x="669" y="613">-100</text>
</g>
<g font-size="31" text-anchor="middle">
<text x="693" y="651">-150</text><text x="834.8" y="651">-100</text><text x="976.7" y="651">-50</text><text x="1117.5" y="651">0</text><text x="1259.3" y="651">50</text><text x="1401.2" y="651">100</text><text x="1543" y="651">150</text>
</g>
<text x="952" y="680" font-size="31" textLength="328" lengthAdjust="spacingAndGlyphs">Off-resonance Δω<tspan dy="7" font-size="23">0</tspan><tspan dy="-7"> [Hz]</tspan></text>
<text transform="translate(605,419.5) rotate(-90)" text-anchor="middle" font-size="32" textLength="165" lengthAdjust="spacingAndGlyphs">ΔT<tspan dy="5" font-size="24">RAFF2</tspan><tspan dy="-5"> [%]</tspan></text>

<!-- ============ PANEL E ============ -->
<text x="577" y="771" font-size="32" textLength="560" lengthAdjust="spacingAndGlyphs">(E) RAFF2 relative B<tspan dy="7" font-size="23">1</tspan><tspan dy="-20" font-size="23">+</tspan><tspan dy="13"> performance</tspan></text>
<rect x="664" y="805" width="23" height="132" fill="url(#traff)" stroke="#888" stroke-width="0.8"/>
<g font-size="26" text-anchor="end">
<text x="659" y="814.5">600</text><text x="659" y="858.5">400</text><text x="659" y="902.5">200</text><text x="659" y="946.5">0</text>
</g>
<text transform="translate(604,871) rotate(-90)" text-anchor="middle" font-size="31" textLength="160" lengthAdjust="spacingAndGlyphs">T<tspan dy="5" font-size="24">RAFF2</tspan><tspan dy="-5"> [ms]</tspan></text>

<g transform="translate(701,819)">
<rect width="107" height="108" rx="14" fill="#a3162a"/>
<ellipse cx="26.2" cy="22.5" rx="13.5" ry="15" fill="#d82a1c"/><ellipse cx="56.7" cy="22.5" rx="13.5" ry="15" fill="#d42418"/><ellipse cx="26.2" cy="52.9" rx="13.5" ry="15" fill="#d82a1c"/><ellipse cx="56.7" cy="52.9" rx="13.5" ry="15" fill="#dc2a18"/><ellipse cx="56.7" cy="82.8" rx="13.5" ry="15" fill="#e0301a"/>
</g>
<g transform="translate(947,819)">
<rect width="107" height="108" rx="14" fill="url(#pE2)"/>
<ellipse cx="26.2" cy="22.5" rx="13.5" ry="15" fill="#30e6b4"/><ellipse cx="56.7" cy="22.5" rx="13.5" ry="15" fill="#38e4a8"/><ellipse cx="88.8" cy="22.5" rx="13.5" ry="15" fill="#9e1428"/><ellipse cx="26.2" cy="52.9" rx="13.5" ry="15" fill="#30e8b8"/><ellipse cx="56.7" cy="52.9" rx="13.5" ry="15" fill="#28ecc4"/><ellipse cx="88.8" cy="52.9" rx="13.5" ry="15" fill="#9e1428"/><ellipse cx="26.2" cy="82.8" rx="13.5" ry="15" fill="#9a1428"/><ellipse cx="56.7" cy="82.8" rx="13.5" ry="15" fill="#30e8c8"/><ellipse cx="88.8" cy="82.8" rx="13.5" ry="15" fill="#a01428"/>
</g>
<g transform="translate(1189,819)">
<rect width="107" height="108" rx="14" fill="url(#pE3)"/>
<ellipse cx="26.2" cy="22.5" rx="13.5" ry="15" fill="#3090ee"/><ellipse cx="56.7" cy="22.5" rx="13.5" ry="15" fill="#40a8f0"/><ellipse cx="88.8" cy="22.5" rx="13.5" ry="15" fill="#a0142a"/><ellipse cx="26.2" cy="52.9" rx="13.5" ry="15" fill="#2e94f0"/><ellipse cx="56.7" cy="52.9" rx="13.5" ry="15" fill="#1e70f0"/><ellipse cx="88.8" cy="52.9" rx="13.5" ry="15" fill="#a0142a"/><ellipse cx="26.2" cy="82.8" rx="13.5" ry="15" fill="#a0142a"/><ellipse cx="56.7" cy="82.8" rx="13.5" ry="15" fill="#1e72f0"/><ellipse cx="88.8" cy="82.8" rx="13.5" ry="15" fill="#a4162a"/>
</g>
<g transform="translate(1434,819)">
<rect width="107" height="108" rx="14" fill="url(#pG)"/>
<ellipse cx="26.2" cy="22.5" rx="13.5" ry="15" fill="#1040f0"/><ellipse cx="56.7" cy="22.5" rx="13.5" ry="15" fill="#1650f0"/><ellipse cx="88.8" cy="22.5" rx="13.5" ry="15" fill="#e02010"/><ellipse cx="26.2" cy="52.9" rx="13.5" ry="15" fill="#1450f0"/><ellipse cx="56.7" cy="52.9" rx="13.5" ry="15" fill="#0a3af0"/><ellipse cx="88.8" cy="52.9" rx="13.5" ry="15" fill="#e22410"/><ellipse cx="26.2" cy="82.8" rx="13.5" ry="15" fill="#d41818"/><ellipse cx="56.7" cy="82.8" rx="13.5" ry="15" fill="#0a38f0"/><ellipse cx="88.8" cy="82.8" rx="13.5" ry="15" fill="#e02a14"/>
</g>

<!-- connectors E -->
<g fill="none" stroke="#555" stroke-width="1.6" stroke-dasharray="6 4">
<path d="M754.5 927 V960 H692 V993"/>
<path d="M1000.5 927 V960 H975.7 V993"/>
<path d="M1242.5 927 V960 H1259.3 V993"/>
<path d="M1487.5 927 V960 H1543 V993"/>
</g>
<g fill="none" stroke="#555" stroke-width="1.6">
<path d="M688 986 L692 994 L696 986"/><path d="M971.7 986 L975.7 994 L979.7 986"/><path d="M1255.3 986 L1259.3 994 L1263.3 986"/><path d="M1539 986 L1543 994 L1547 986"/>
</g>

<!-- E grid -->
<g stroke="#d9d9d9" stroke-width="1.8" stroke-dasharray="9 6" fill="none">
<path d="M833.8 996.4V1358M975.7 996.4V1358M1117.5 996.4V1358M1259.3 996.4V1358M1401.2 996.4V1358M1543 996.4V1358"/>
<path d="M692 996.4H1543M692 1086.8H1543M692 1177.2H1543M692 1267.6H1543"/>
</g>
<!-- E bands -->
<polygon fill="#6455af" fill-opacity="0.4" points="692,1065.1 975.7,1261.3 1259.3,1328.2 1543,1357.5 1543,1358.5 1259.3,1331.8 975.7,1266.7 692,1083.2"/>
<polygon fill="#3c96be" fill-opacity="0.4" points="692,1061.5 975.7,1258.6 1259.3,1330 1543,1357.5 1543,1358.5 1259.3,1333.6 975.7,1264 692,1079.6"/>
<polygon fill="#87d4a5" fill-opacity="0.36" points="692,1054.3 975.7,1262.2 1259.3,1321.8 1543,1357.1 1543,1358.9 1259.3,1330.9 975.7,1282.1 692,1101.3"/>
<!-- E lines -->
<polyline fill="none" stroke-width="4.5" stroke-linejoin="round" stroke="#5c55a6" points="692,1074.1 975.7,1264 1259.3,1330 1543,1358"/>
<g fill="#5a4fa3"><circle cx="692" cy="1074.1" r="8.5"/><circle cx="975.7" cy="1264" r="8.5"/><circle cx="1259.3" cy="1330" r="8.5"/><circle cx="1543" cy="1358" r="8.5"/></g>
<polyline fill="none" stroke-width="4.5" stroke-linejoin="round" stroke="#3b93b9" points="692,1070.5 975.7,1261.3 1259.3,1331.8 1543,1358"/>
<g fill="#3a90b8"><circle cx="692" cy="1070.5" r="8.5"/><circle cx="975.7" cy="1261.3" r="8.5"/><circle cx="1259.3" cy="1331.8" r="8.5"/><circle cx="1543" cy="1358" r="8.5"/></g>
<polyline fill="none" stroke-width="4.5" stroke-linejoin="round" stroke="#87d4a5" points="692,1077.8 975.7,1271.2 1259.3,1326.4 1543,1358"/>
<g fill="#86d3a4"><circle cx="692" cy="1077.8" r="8.5"/><circle cx="975.7" cy="1271.2" r="8.5"/><circle cx="1259.3" cy="1326.4" r="8.5"/><circle cx="1543" cy="1358" r="8.5"/></g>
<!-- E axes -->
<g stroke="#555" stroke-width="2" fill="none">
<path d="M692 996.4V1358H1543"/>
<path d="M682 996.4H692M682 1086.8H692M682 1177.2H692M682 1267.6H692M682 1358H692"/>
<path d="M686 1014.5H692M686 1032.6H692M686 1050.6H692M686 1068.7H692M686 1104.9H692M686 1123H692M686 1141H692M686 1159.1H692M686 1195.3H692M686 1213.4H692M686 1231.4H692M686 1249.5H692M686 1285.7H692M686 1303.8H692M686 1321.8H692M686 1339.9H692"/>
<path d="M692 1358v11M720.4 1358v8M748.7 1358v8M777.1 1358v8M805.5 1358v8M833.8 1358v11M862.2 1358v8M890.6 1358v8M918.9 1358v8M947.3 1358v8M975.7 1358v11M1004 1358v8M1032.4 1358v8M1060.8 1358v8M1089.1 1358v8M1117.5 1358v11M1145.9 1358v8M1174.2 1358v8M1202.6 1358v8M1231 1358v8M1259.3 1358v11M1287.7 1358v8M1316.1 1358v8M1344.4 1358v8M1372.8 1358v8M1401.2 1358v11M1429.5 1358v8M1457.9 1358v8M1486.3 1358v8M1514.6 1358v8M1543 1358v11"/>
</g>
<g font-size="31" text-anchor="end">
<text x="669" y="1007.4">400</text><text x="669" y="1097.8">300</text><text x="669" y="1188.2">200</text><text x="669" y="1278.6">100</text><text x="669" y="1369">0</text>
</g>
<g font-size="31" text-anchor="middle">
<text x="692" y="1405">0.4</text><text x="833.8" y="1405">0.5</text><text x="975.7" y="1405">0.6</text><text x="1117.5" y="1405">0.7</text><text x="1259.3" y="1405">0.8</text><text x="1401.2" y="1405">0.9</text><text x="1543" y="1405">1.0</text>
</g>
<text x="1003" y="1440" font-size="31" textLength="227" lengthAdjust="spacingAndGlyphs">Relative B<tspan dy="7" font-size="23">1</tspan><tspan dy="-20" font-size="23">+</tspan><tspan dy="13"> (η</tspan><tspan dy="7" font-size="23">1</tspan><tspan dy="-7">)</tspan></text>
<text transform="translate(605,1176) rotate(-90)" text-anchor="middle" font-size="32" textLength="164" lengthAdjust="spacingAndGlyphs">ΔT<tspan dy="5" font-size="24">RAFF2</tspan><tspan dy="-5"> [%]</tspan></text>

<!-- ============ LEGEND ============ -->
<rect x="61" y="1468" width="1444" height="46" fill="#fff" stroke="#333" stroke-width="1.5"/>
<text x="69" y="1503" font-size="30" textLength="344" lengthAdjust="spacingAndGlyphs">Vial T<tspan dy="6" font-size="21">1</tspan><tspan dy="-6"> | T</tspan><tspan dy="6" font-size="21">2</tspan><tspan dy="-6"> | T</tspan><tspan dy="6" font-size="21">RAFF2</tspan><tspan dy="-6"> [ms]:</tspan></text>
<circle cx="457.6" cy="1492" r="7.5" fill="#5a4fa3"/>
<text x="473" y="1503" font-size="30" textLength="279" lengthAdjust="spacingAndGlyphs">Vial 1: 993 | 44 | 112</text>
<circle cx="814.6" cy="1492" r="7.5" fill="#3a90b8"/>
<text x="831.6" y="1503" font-size="30" textLength="277" lengthAdjust="spacingAndGlyphs">Vial 2: 547 | 45 | 101</text>
<circle cx="1167" cy="1492" r="7.5" fill="#86d3a4"/>
<text x="1183" y="1503" font-size="30" textLength="317" lengthAdjust="spacingAndGlyphs">Vial 3: 1415 | 193 | 399</text>
</svg>
</body></html>
